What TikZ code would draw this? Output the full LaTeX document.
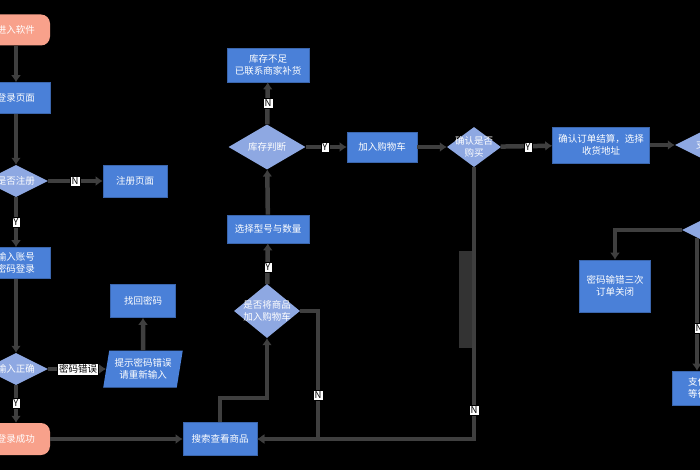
\documentclass[tikz,border=0pt]{standalone}
\usepackage{fontspec}
\newfontfamily\cjk{Noto Sans CJK SC}
\usetikzlibrary{shapes.geometric,arrows.meta,calc}
\definecolor{bluebox}{HTML}{4A80D8}
\definecolor{bluedia}{HTML}{8EA8E2}
\definecolor{salmon}{HTML}{F8A18B}
\definecolor{conn}{HTML}{3F3F3F}
\tikzset{
  txt/.style={font=\cjk\fontsize{9.5}{12}\selectfont, text=white, align=center, inner sep=1pt},
  box/.style={txt, rectangle, fill=bluebox, draw=bluebox!80!black, line width=0.6pt},
  term/.style={txt, rectangle, rounded corners=9pt, fill=salmon},
  dia/.style={txt, diamond, fill=bluedia, aspect=2, inner sep=0pt},
  dtext/.style={label={[txt]center:#1}},
  para/.style={txt, trapezium, trapezium left angle=77, trapezium right angle=103, trapezium stretches=true, fill=bluebox},
  arr/.style={draw=conn, line width=4.5pt, -{Latex[length=7pt,width=10pt]}},
  lbl/.style={font=\cjk\fontsize{9.5}{11}\selectfont, fill=white, text=black, draw=black, line width=0.5pt, inner sep=1.5pt}
}
\begin{document}
\begin{tikzpicture}[x=1pt,y=-1pt]
\fill[black] (0,0) rectangle (700,470);
\useasboundingbox (0,0) rectangle (700,470);
\clip (0,0) rectangle (700,470);
% nodes
\node[term, minimum width=68pt, minimum height=31pt] (start) at (16,30) {进入软件};
\node[box, minimum width=68pt, minimum height=31pt] (login) at (16,98) {登录页面};
\node[dia, minimum width=64pt, minimum height=32pt] (reg) at (16,181) {是否注册};
\node[box, minimum width=64pt, minimum height=32pt] (regpage) at (135,181) {注册页面};
\node[box, minimum width=68pt, minimum height=31pt] (input) at (16,263) {输入账号\\密码登录};
\node[dia, minimum width=64pt, minimum height=32pt] (correct) at (16,369) {输入正确};
\node[para, minimum width=80pt, minimum height=37pt] (hint) at (143,369) {提示密码错误\\请重新输入};
\node[box, minimum width=65pt, minimum height=33pt] (findpw) at (143,301) {找回密码};
\node[term, minimum width=68pt, minimum height=32pt] (success) at (16,439) {登录成功};
\node[box, minimum width=74pt, minimum height=33pt] (search) at (220,439) {搜索查看商品};
\node[dia, minimum width=66pt, minimum height=54pt, dtext={是否将商品\\加入购物车}] (addcart) at (267,311) {};
\node[box, minimum width=82pt, minimum height=28pt] (select) at (268,229) {选择型号与数量};
\node[dia, minimum width=77pt, minimum height=45pt, dtext={库存判断}] (stock) at (267,147) {};
\node[box, minimum width=82pt, minimum height=34pt] (short) at (268,65) {库存不足\\已联系商家补货};
\node[box, minimum width=70pt, minimum height=30pt] (cart) at (382,147) {加入购物车};
\node[dia, minimum width=54pt, minimum height=40pt, dtext={确认是否\\购买}] (buy) at (474,147) {};
\node[box, minimum width=97pt, minimum height=36pt] (confirm) at (601,145) {确认订单结算，选择\\收货地址};
\node[dia, minimum width=80pt, minimum height=40pt, dtext={支付判断}] (pay) at (715,145) {};
\node[dia, minimum width=64pt, minimum height=32pt] (d2) at (714,230) {};
\node[box, minimum width=71pt, minimum height=52pt] (close) at (615,286) {密码输错三次\\订单关闭};
\node[box, minimum width=70pt, minimum height=34pt] (paid) at (707,388) {支付成功\\等待发货};
\coordinate (bend1) at (267,398);
\coordinate (j1) at (318,439);
\coordinate (j2) at (474,439);
\coordinate (d2b) at (697,238);
% dark vertical label
\fill[black!80] (459,251) rectangle (472,348);
% connectors
\draw[arr] (start) -- (login);
\draw[arr] (login) -- (reg);
\draw[arr] (reg) -- (regpage);
\draw[arr] (reg) -- (input);
\draw[arr] (input) -- (correct);
\draw[arr] (correct) -- (hint);
\draw[arr] (hint) -- (findpw);
\draw[arr] (correct) -- (success);
\draw[arr] (success) -- (search);
\draw[arr] (search.north) |- (bend1) -- (addcart.south);
\draw[arr] (addcart) -- (select);
\draw[arr] (addcart.east) -| (j1) -- (search.east);
\draw[arr] (buy.south) -- (j2) -- (search.east);
\draw[arr] (select) -- (stock);
\draw[arr] (stock) -- (short);
\draw[arr] (stock) -- (cart);
\draw[arr] (cart) -- (buy);
\draw[arr] (buy) -- (confirm);
\draw[arr] (confirm) -- (pay);
\draw[arr] (d2.west) -| (close.north);
\draw[arr] (d2b) -- (d2b |- paid.north);
% labels
\node[lbl] (l1) at (75,181) {N};
\node[lbl] (l2) at (16,222) {Y};
\node[lbl] (l3) at (78,369) {密码错误};
\node[lbl] (l4) at (16,403) {Y};
\node[lbl] (l5) at (268,103) {N};
\node[lbl] (l6) at (325,147) {Y};
\node[lbl] (l7) at (268,267) {Y};
\node[lbl] (l8) at (318,395) {N};
\node[lbl] (l9) at (528,147) {Y};
\node[lbl] (l10) at (474,410) {N};
\node[lbl] (l11) at (699,328) {N};
\end{tikzpicture}
\end{document}
